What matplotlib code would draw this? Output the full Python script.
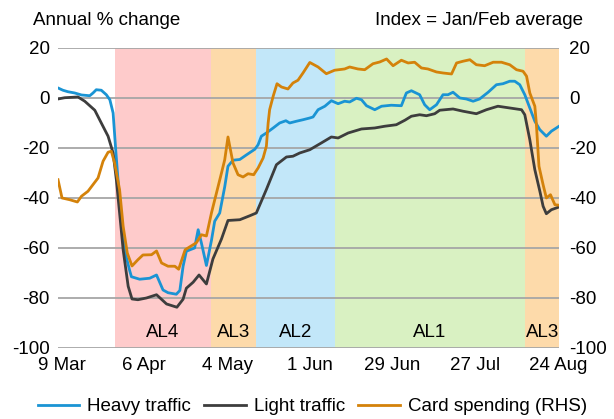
import matplotlib
matplotlib.use('Agg')
import matplotlib.pyplot as plt

plt.rcParams['font.family'] = ['Liberation Sans', 'DejaVu Sans']
plt.rcParams['font.size'] = 13.5
plt.rcParams['axes.unicode_minus'] = False

# days since 9 Mar
heavy_day = [-1.25, 0.4, 2.1, 4.4, 6.7, 9.5, 10.6, 11.7, 13.4, 15.1, 16.3, 17.4, 18.3, 19.6, 21.3,
             23.0, 23.6, 26.4, 29.8, 32.1, 34.3, 36.0, 38.8, 40.0, 41.1, 42.2, 45.0, 46.2, 47.3,
             49.0, 50.7, 51.8, 53.5, 55.2, 56.3, 58.0, 60.3, 62.5, 65.4, 66.5, 67.6, 69.3, 71.6,
             73.8, 75.9, 77.2, 79.5, 81.7, 84.0, 85.1, 86.8, 89.1, 91.3, 93.6, 95.8, 97.5, 99.8,
             101.5, 103.2, 106.0, 108.3, 111.6, 115.0, 116.7, 118.4, 121.2, 122.9, 124.6, 126.9,
             129.1, 130.8, 132.5, 134.8, 137.0, 139.3, 141.5, 144.4, 147.2, 149.4, 151.7, 153.4,
             155.1, 156.8, 158.5, 160.2, 161.9, 164.1, 165.8, 168.4]
heavy_val = [4.0, 3.1, 2.5, 2.0, 1.2, 0.9, 2.0, 3.3, 3.1, 1.3, -0.7, -6, -21, -41, -61,
             -69, -71.5, -72.5, -72.1, -70.8, -76.8, -77.9, -78.5, -77, -67.3, -61.3, -60, -52.7, -58,
             -67, -57, -49.3, -46, -35.5, -27.3, -24.9, -24.6, -22.8, -20.5, -18.7, -15.3, -14, -12,
             -10, -9.1, -10, -9.3, -8.7, -8, -7.6, -4.7, -3.3, -1.1, -2.3, -1.3, -1.6, -0.1,
             -0.7, -3.1, -4.7, -3.3, -2.9, -3.1, 2, 2.9, 1.3, -2.7, -4.7, -2.7,
             1.3, 1.3, 2.3, 0, -0.4, -1.3, -0.4, 2.3, 5.3, 5.7, 6.7, 6.7,
             5.3, 1.3, -4, -9.3, -12.7, -15.3, -13.3, -11.3]

light_day = [-1.25, 1.0, 5.5, 7.8, 11.2, 13.4, 15.7, 17.4, 18.5, 19.6, 20.8, 22.5, 23.8, 25.8,
             28.7, 32.1, 35.5, 39.0, 41.1, 42.2, 44.5, 46.5, 49.0, 51.2, 54.1, 56.3, 60.3, 63.7,
             65.9, 69.3, 72.7, 76.1, 78.3, 80.6, 84.0, 87.9, 91.3, 93.6, 97.0, 101.5, 106.0, 109.4,
             113.3, 116.2, 118.4, 121.2, 123.5, 126.3, 128.0, 132.5, 135.9, 140.4, 143.8, 147.7,
             151.7, 155.7, 156.8, 158.5, 160.2, 161.9, 163.0, 164.1, 165.8, 168.4]
light_val = [-0.4, 0.1, 0.4, -1.3, -4.9, -10, -15.3, -22, -32.7, -46, -60.7, -75.3, -80.4, -80.7,
             -80, -78.7, -82.4, -83.7, -80.5, -76.1, -73.7, -70.8, -74.4, -64.4, -56.4, -49, -48.7, -47.1,
             -46, -36.6, -26.7, -23.6, -23.3, -22, -20.7, -18, -15.6, -16, -14, -12.4, -12, -11.3,
             -10.7, -8.9, -7.3, -6.7, -7.1, -6.3, -4.9, -4.4, -5.3, -6.3, -4.7, -3.3,
             -4, -4.7, -6.7, -16.7, -28.7, -37.3, -43.3, -46.3, -44.7, -43.6]

card_day = [-1.25, 0.1, 2.7, 5.3, 6.7, 8.9, 12.3, 14.0, 15.7, 16.8, 17.9, 19.6, 20.8, 22.2, 23.8,
            25.8, 27.5, 30.4, 32.1, 33.8, 36.0, 38.3, 39.6, 41.8, 45.6, 47.3, 49.0, 50.7, 52.4,
            54.1, 55.2, 56.3, 58.0, 59.7, 61.4, 63.1, 65.0, 66.5, 68.2, 69.3, 69.9, 70.4, 71.6,
            72.9, 74.4, 76.6, 78.3, 80.0, 81.7, 84.0, 86.8, 89.6, 92.4, 95.8, 97.5, 100.3, 102.6,
            105.4, 107.7, 110.0, 112.2, 115.0, 117.3, 119.5, 121.8, 124.0, 126.9, 129.1, 132.0,
            133.7, 135.9, 138.2, 140.4, 143.2, 146.1, 148.9, 151.7, 154.0, 156.2, 157.4, 158.5,
            160.2, 160.7, 161.6, 163.0, 164.1, 165.5, 167.0, 168.4]
card_val = [-32.7, -40, -40.7, -41.6, -39.3, -37.3, -32, -25.3, -21.7, -21.3, -26, -36.7, -51.3, -62, -67.2,
            -64.7, -62.8, -62.7, -61.2, -66, -67.3, -67.3, -68.5, -60.7, -57.9, -54.7, -55.2, -46, -38,
            -30, -24.7, -15.6, -26, -30.7, -31.6, -30.3, -30.7, -28, -24, -19.3, -10, -4.7, 0.7,
            5.7, 4.4, 3.6, 6, 7.1, 10, 14.2, 12.4, 9.7, 11.1, 11.6, 12.4, 11.6, 11.3,
            13.7, 14.4, 15.6, 12.9, 15.1, 14, 14.3, 12, 11.6, 10.4, 10, 9.6,
            14, 14.7, 15.3, 13.3, 12.9, 14.3, 14.3, 13.3, 11.3, 10.7, 8.7, 2,
            -3.3, -10, -27.3, -34.7, -40, -38.7, -42.7, -42.9]

# alert level periods (days since 9 Mar)
level_names = ['AL4', 'AL3', 'AL2', 'AL1', 'AL3']
level_edges = [18.0, 50.5, 65.7, 92.4, 157.0, 168.4]
level_colors = ['#fecbcb', '#fddaaa', '#c2e7f9', '#d9f1c2', '#fddaaa']

tick_days = [0, 28, 56, 84, 112, 140, 168]
tick_labels = ['9 Mar', '6 Apr', '4 May', '1 Jun', '29 Jun', '27 Jul', '24 Aug']

fig = plt.figure(figsize=(6.14, 4.19), dpi=100)
ax = fig.add_axes([0.0945, 0.1695, 0.816, 0.716])
ax2 = ax.twinx()

for i, name in enumerate(level_names):
    ax.axvspan(level_edges[i], level_edges[i + 1], color=level_colors[i], lw=0, zorder=0)
    ax.text((level_edges[i] + level_edges[i + 1]) / 2, -94, name, ha='center', va='center')

l1, = ax.plot(heavy_day, heavy_val, color='#1a94d4', lw=2, label='Heavy traffic', zorder=3)
l2, = ax.plot(light_day, light_val, color='#3d3d3d', lw=2, label='Light traffic', zorder=3)
l3, = ax2.plot(card_day, card_val, color='#d4820a', lw=2, label='Card spending (RHS)', zorder=3)

for a in (ax, ax2):
    a.set_ylim(-100, 20)
    a.set_yticks(range(-100, 21, 20))
    a.set_xlim(-1.25, 168.4)
    for s in a.spines.values():
        s.set_visible(False)
    a.tick_params(length=0)

ax.yaxis.grid(True, color='#a6a6a6', lw=1.3)
ax.set_xticks(tick_days)
ax.set_xticklabels(tick_labels)
ax.tick_params(axis='y', pad=6)
ax.tick_params(axis='x', pad=6.5)
ax2.tick_params(axis='y', pad=7)

fig.text(0.054, 0.952, 'Annual % change', ha='left', va='center')
fig.text(0.95, 0.952, 'Index = Jan/Feb average', ha='right', va='center')

fig.legend([l1, l2, l3], [l.get_label() for l in (l1, l2, l3)], loc='center',
           bbox_to_anchor=(0.509, 0.029), ncol=3, frameon=False,
           handlelength=2.2, handletextpad=0.45, columnspacing=0.7)

fig.savefig('out.png', dpi=100)
